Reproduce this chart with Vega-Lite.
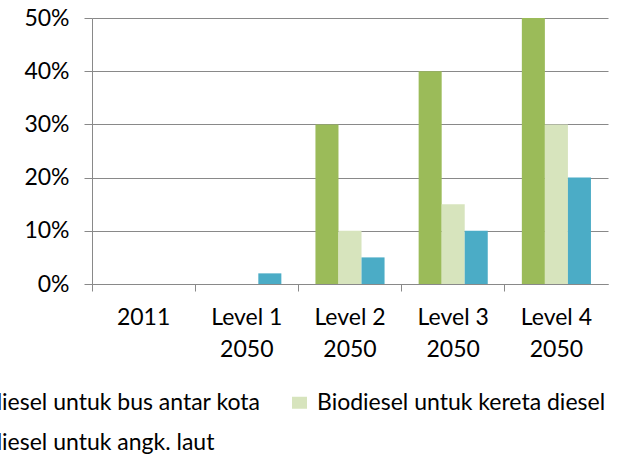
{
  "$schema": "https://vega.github.io/schema/vega-lite/v6.json",
  "autosize": {"type": "none"},
  "width": 516,
  "height": 266,
  "padding": {"left": 92, "top": 18, "right": 18, "bottom": 171},
  "background": "white",
  "config": {
    "view": {"stroke": null},
    "font": "Lato"
  },
  "data": {
    "values": [
      {"kategori": "2011", "seri": "Biodiesel untuk bus antar kota", "nilai": 0},
      {"kategori": "2011", "seri": "Biodiesel untuk kereta diesel", "nilai": 0},
      {"kategori": "2011", "seri": "Biodiesel untuk angk. laut", "nilai": 0},
      {"kategori": "Level 1|2050", "seri": "Biodiesel untuk bus antar kota", "nilai": 0},
      {"kategori": "Level 1|2050", "seri": "Biodiesel untuk kereta diesel", "nilai": 0},
      {"kategori": "Level 1|2050", "seri": "Biodiesel untuk angk. laut", "nilai": 0.02},
      {"kategori": "Level 2|2050", "seri": "Biodiesel untuk bus antar kota", "nilai": 0.30},
      {"kategori": "Level 2|2050", "seri": "Biodiesel untuk kereta diesel", "nilai": 0.10},
      {"kategori": "Level 2|2050", "seri": "Biodiesel untuk angk. laut", "nilai": 0.05},
      {"kategori": "Level 3|2050", "seri": "Biodiesel untuk bus antar kota", "nilai": 0.40},
      {"kategori": "Level 3|2050", "seri": "Biodiesel untuk kereta diesel", "nilai": 0.15},
      {"kategori": "Level 3|2050", "seri": "Biodiesel untuk angk. laut", "nilai": 0.10},
      {"kategori": "Level 4|2050", "seri": "Biodiesel untuk bus antar kota", "nilai": 0.50},
      {"kategori": "Level 4|2050", "seri": "Biodiesel untuk kereta diesel", "nilai": 0.30},
      {"kategori": "Level 4|2050", "seri": "Biodiesel untuk angk. laut", "nilai": 0.20}
    ]
  },
  "mark": {"type": "bar"},
  "encoding": {
    "x": {
      "field": "kategori",
      "type": "nominal",
      "sort": null,
      "scale": {"paddingInner": 0, "paddingOuter": 0},
      "axis": {
        "title": null,
        "labelAngle": 0,
        "bandPosition": 0,
        "labelExpr": "split(datum.value, '|')",
        "labelFontSize": 23,
        "labelColor": "black",
        "labelLineHeight": 32,
        "labelPadding": 15,
        "labelBaseline": "top",
        "domainColor": "#898989",
        "tickColor": "#898989",
        "tickSize": 7,
        "grid": false
      }
    },
    "xOffset": {
      "field": "seri",
      "type": "nominal",
      "sort": ["Biodiesel untuk bus antar kota", "Biodiesel untuk kereta diesel", "Biodiesel untuk angk. laut"],
      "scale": {"paddingInner": 0, "paddingOuter": 0.74}
    },
    "y": {
      "field": "nilai",
      "type": "quantitative",
      "scale": {"domain": [0, 0.5], "nice": false},
      "axis": {
        "title": null,
        "format": ".0%",
        "values": [0, 0.1, 0.2, 0.3, 0.4, 0.5],
        "labelFontSize": 23,
        "labelColor": "black",
        "labelPadding": 15,
        "tickSize": 8,
        "tickColor": "#898989",
        "domainColor": "#898989",
        "gridColor": "#898989",
        "gridOpacity": 1
      }
    },
    "color": {
      "field": "seri",
      "type": "nominal",
      "scale": {
        "domain": ["Biodiesel untuk bus antar kota", "Biodiesel untuk kereta diesel", "Biodiesel untuk angk. laut"],
        "range": ["#9BBB59", "#D7E4BD", "#4BACC6"]
      },
      "legend": {
        "title": null,
        "orient": "none",
        "legendX": -165,
        "legendY": 373,
        "direction": "horizontal",
        "columns": 2,
        "columnPadding": 27,
        "rowPadding": 16,
        "padding": 0,
        "labelFontSize": 23,
        "labelColor": "black",
        "labelOffset": 6,
        "labelLimit": 0,
        "symbolType": "M-1,-0.8H1V0.8H-1Z",
        "symbolSize": 225,
        "symbolStrokeWidth": 0
      }
    }
  }
}
